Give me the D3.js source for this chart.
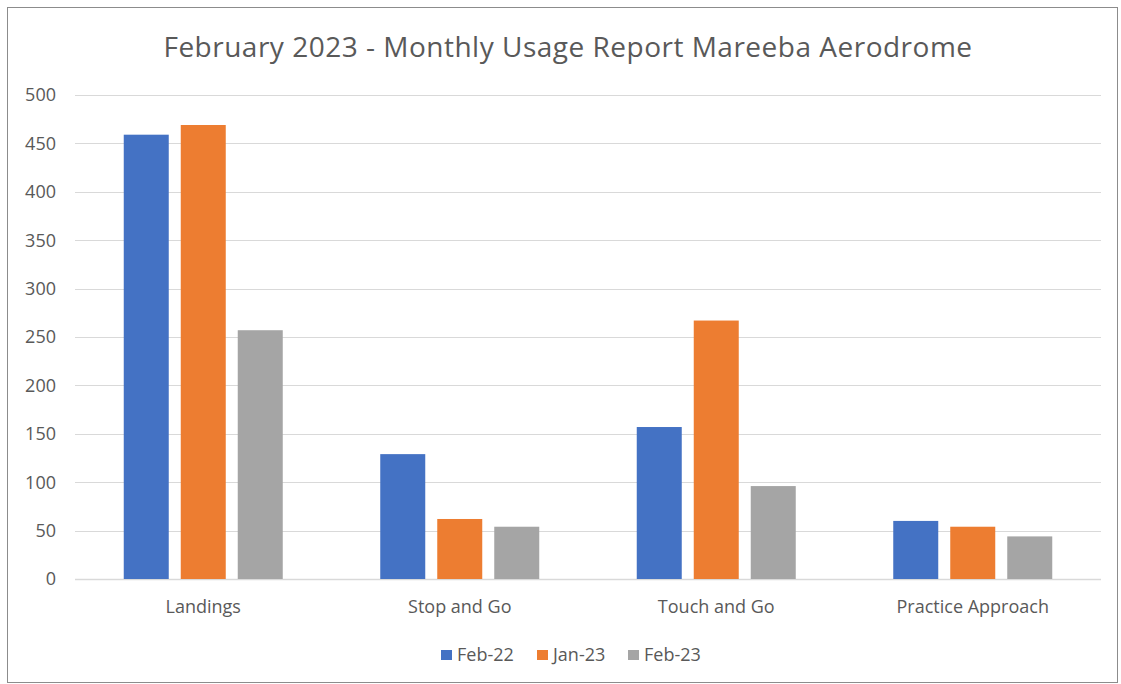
<html>
<head>
<script src="https://d3js.org/d3.v7.min.js"></script>
<style>
  body { margin: 0; background: #fff; }
  text { font-family: "Open Sans", "Noto Sans", sans-serif; fill: #595959; }
</style>
</head>
<body>
<script>
  // chart data
  const categories = ["Landings", "Stop and Go", "Touch and Go", "Practice Approach"];
  const seriesNames = ["Feb-22", "Jan-23", "Feb-23"];
  const feb22 = [459, 129, 157, 60];
  const jan23 = [469, 62, 267, 54];
  const feb23 = [257, 54, 96, 44];
  const yTicks = [0, 50, 100, 150, 200, 250, 300, 350, 400, 450, 500];
  const colors = ["#4472C4", "#ED7D31", "#A5A5A5"];

  const width = 1121;
  const height = 684;
  const plotLeft = 75, plotRight = 1101, plotTop = 95, plotBottom = 579;

  const svg = d3.select("body").append("svg")
      .attr("width", width)
      .attr("height", height);

  // chart border
  svg.append("rect")
      .attr("x", 7.5).attr("y", 7.5)
      .attr("width", 1110).attr("height", 675)
      .attr("fill", "#fff")
      .attr("stroke", "#8c8c8c")
      .attr("stroke-width", 1);

  // title
  svg.append("text")
      .attr("x", 568).attr("y", 57)
      .attr("text-anchor", "middle")
      .attr("font-size", 28)
      .attr("letter-spacing", 0.5)
      .text("February 2023 - Monthly Usage Report Mareeba Aerodrome");

  const y = d3.scaleLinear().domain([0, 500]).range([plotBottom, plotTop]);
  const x = d3.scaleBand().domain(categories).range([plotLeft, plotRight]);

  const groupWidth = 159;
  const xs = d3.scaleBand().domain(seriesNames).range([0, groupWidth]).paddingInner(0.2105);

  // gridlines
  svg.append("g").selectAll("line")
      .data(yTicks)
      .join("line")
      .attr("x1", plotLeft).attr("x2", plotRight)
      .attr("y1", d => Math.round(y(d)) + 0.5)
      .attr("y2", d => Math.round(y(d)) + 0.5)
      .attr("stroke", "#d9d9d9")
      .attr("stroke-width", d => d === 0 ? 1.5 : 1);

  // y tick labels
  svg.append("g").selectAll("text")
      .data(yTicks)
      .join("text")
      .attr("x", 56)
      .attr("y", d => y(d))
      .attr("dy", "0.35em")
      .attr("text-anchor", "end")
      .attr("font-size", 18)
      .text(d => d);

  // bars
  const series = [feb22, jan23, feb23];
  series.forEach((vals, si) => {
    svg.append("g").selectAll("rect")
        .data(vals)
        .join("rect")
        .attr("x", (d, i) => x(categories[i]) + x.bandwidth() / 2 - groupWidth / 2 + xs(seriesNames[si]))
        .attr("y", d => y(d))
        .attr("width", xs.bandwidth())
        .attr("height", d => y(0) - y(d))
        .attr("fill", colors[si]);
  });

  // category labels
  svg.append("g").selectAll("text")
      .data(categories)
      .join("text")
      .attr("x", d => x(d) + x.bandwidth() / 2)
      .attr("y", 607)
      .attr("dy", "0.35em")
      .attr("text-anchor", "middle")
      .attr("font-size", 18)
      .text(d => d);

  // legend
  const legendX = [441, 537, 628];
  const legend = svg.append("g").selectAll("g")
      .data(seriesNames)
      .join("g")
      .attr("transform", (d, i) => `translate(${legendX[i]},655)`);
  legend.append("rect")
      .attr("x", 0).attr("y", -5)
      .attr("width", 11).attr("height", 10)
      .attr("fill", (d, i) => colors[i]);
  legend.append("text")
      .attr("x", 16)
      .attr("y", 0)
      .attr("dy", "0.35em")
      .attr("font-size", 18)
      .text(d => d);
</script>
</body>
</html>
